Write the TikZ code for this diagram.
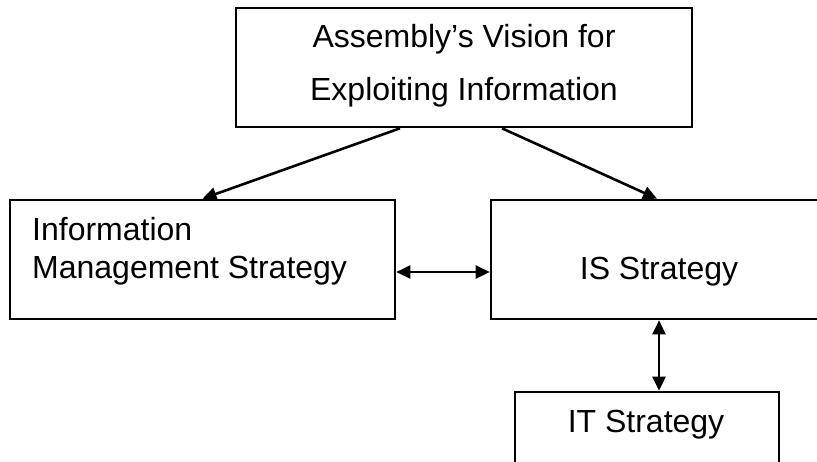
\documentclass[tikz,border=0pt]{standalone}
\usepackage{fontspec}
\setmainfont{Liberation Sans}
\usetikzlibrary{arrows.meta}
\begin{document}
\begin{tikzpicture}[x=1pt,y=-1pt,
  box/.style={draw=black,line width=2.6pt,rectangle,inner sep=0pt,fill=none},
  txt/.style={font=\fontsize{32}{38}\selectfont,inner sep=0pt},
  conn/.style={line width=2.6pt,-{Triangle[length=14pt,width=13pt]}},
  dconn/.style={line width=2.6pt,{Triangle[length=14pt,width=13pt]}-{Triangle[length=14pt,width=13pt]}}]
\useasboundingbox (0,0) rectangle (817,461);
\fill[white] (0,0) rectangle (817,461);
% boxes
\node[box,minimum width=456pt,minimum height=119pt] (vision) at (464,67.5) {};
\node[box,minimum width=385pt,minimum height=119pt] (ims) at (202.5,259.5) {};
\node[box,minimum width=336pt,minimum height=119pt] (is) at (659,259.5) {};
\node[box,minimum width=264pt,minimum height=110pt] (it) at (647,447) {};
% texts
\node[txt,anchor=base] (v1) at (464,47) {Assembly’s Vision for};
\node[txt,anchor=base] (v2) at (464,100) {Exploiting Information};
\node[txt,anchor=base west] (m1) at (32,240) {Information};
\node[txt,anchor=base west] (m2) at (32,278) {Management Strategy};
\node[txt,anchor=base] (s1) at (659,279) {IS Strategy};
\node[txt,anchor=base] (t1) at (646,432) {IT Strategy};
% connectors
\draw[conn] ([xshift=-64pt]vision.south) -- (ims.north);
\draw[conn] ([xshift=38pt]vision.south) -- ([xshift=-2pt]is.north);
\draw[dconn] ([yshift=-12.5pt]ims.east) -- ([yshift=-12.5pt]is.west);
\draw[dconn] (is.south) -- (is.south |- it.north);
\end{tikzpicture}
\end{document}
